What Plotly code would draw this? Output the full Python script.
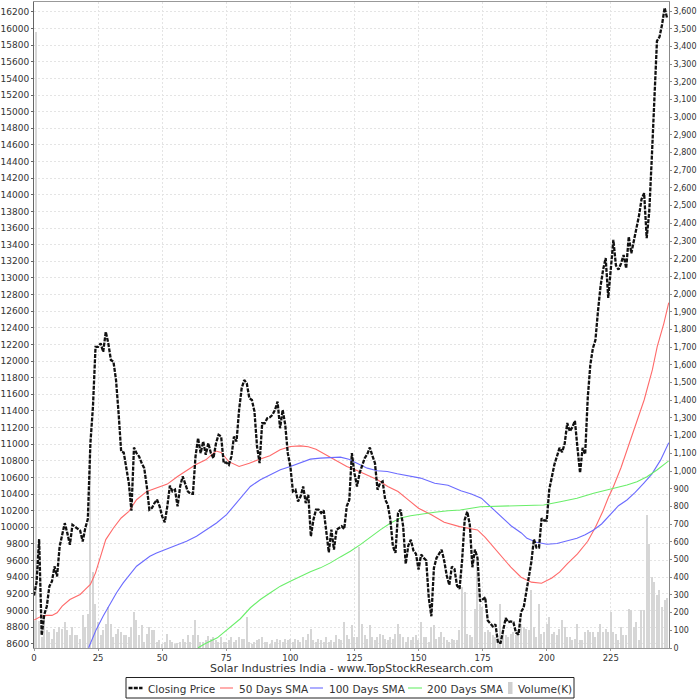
import plotly.graph_objects as go

# ---------------- data ----------------
days = list(range(248))

closing_price = [
    9180, 9340, 9860, 8700, 8950, 9050, 9290, 9350, 9530, 9410,
    9770, 9910, 10050, 9930, 9790, 10030, 10010, 9990, 9960, 9830,
    9990, 10100, 11012, 11452, 12172, 12172, 12212, 12112, 12352, 12212,
    12012, 11992, 11772, 11372, 10912, 10900, 10732, 10532, 10200, 10960,
    10892, 10852, 10772, 10712, 10492, 10212, 10232, 10292, 10332, 10252,
    10132, 10060, 10252, 10500, 10432, 10452, 10252, 10492, 10612, 10512,
    10432, 10404, 10404, 10852, 11072, 10892, 11032, 10872, 11012, 10892,
    10832, 11012, 11112, 11092, 10772, 10780, 10752, 10852, 11092, 11032,
    11412, 11672, 11772, 11732, 11552, 11532, 11392, 10972, 10772, 11252,
    11252, 11312, 11324, 11352, 11412, 11512, 11192, 11412, 11232, 10892,
    10732, 10432, 10452, 10312, 10372, 10492, 10292, 10392, 9892, 10092,
    10212, 10212, 10172, 10204, 9932, 9700, 9972, 9732, 9972, 9992,
    10012, 9980, 10252, 10332, 10892, 10652, 10492, 10652, 10732, 10832,
    10880, 10960, 10860, 10772, 10452, 10532, 10552, 10332, 10272, 10092,
    9772, 9692, 10172, 10212, 10012, 9560, 9780, 9850, 9720, 9680,
    9492, 9672, 9632, 9600, 9150, 8930, 9510, 9630, 9680, 9730,
    9600, 9420, 9306, 9526, 9500, 9300, 9260, 9606, 10088, 10188,
    10030, 9520, 9732, 9632, 9108, 9133, 9158, 8880, 8840, 8808,
    8833, 8609, 8609, 8758, 8908, 8858, 8868, 8858, 8733, 8708,
    8983, 9033, 9208, 9432, 9582, 9857, 9757, 9757, 10107, 10082,
    10082, 10456, 10606, 10756, 10855, 10955, 10905, 11005, 11255, 11155,
    11205, 11280, 10955, 10656, 10955, 10880, 11554, 11953, 12153, 12253,
    12602, 12901, 13101, 13240, 12760, 13150, 13457, 13150, 13100, 13176,
    13276, 13116, 13497, 13297, 13450, 13600, 13750, 13950, 14020, 13480,
    13800, 14450, 15150, 15850, 15900, 16050, 16250, 16120,
]

volume_k = [
    150, 3480, 150, 60, 175, 100, 90, 53, 110, 90,
    119, 109, 147, 100, 72, 119, 72, 72, 53, 185,
    119, 194, 1100, 430, 250, 147, 72, 100, 138, 232,
    138, 62, 81, 109, 90, 72, 72, 60, 119, 203,
    156, 72, 128, 34, 81, 119, 100, 100, 34, 43,
    25, 34, 81, 43, 34, 25, 28, 34, 53, 34,
    72, 34, 72, 156, 72, 34, 34, 43, 66, 53,
    62, 43, 34, 62, 34, 34, 43, 62, 34, 43,
    62, 53, 53, 175, 34, 25, 34, 43, 53, 62,
    34, 34, 25, 43, 34, 53, 43, 34, 53, 43,
    53, 34, 53, 43, 34, 62, 43, 81, 109, 43,
    34, 53, 43, 34, 62, 34, 43, 34, 72, 53,
    43, 147, 72, 53, 128, 62, 60, 570, 138, 72,
    53, 128, 62, 43, 62, 81, 72, 53, 43, 62,
    53, 81, 138, 81, 62, 34, 62, 43, 62, 72,
    43, 147, 62, 62, 34, 119, 128, 53, 62, 90,
    62, 43, 34, 53, 43, 43, 100, 345, 316, 80,
    72, 62, 222, 495, 250, 230, 90, 100, 90, 72,
    62, 34, 250, 119, 72, 62, 81, 90, 72, 100,
    138, 119, 110, 100, 326, 119, 62, 250, 81, 90,
    138, 175, 81, 90, 72, 110, 156, 119, 62, 62,
    43, 53, 138, 43, 43, 90, 100, 90, 90, 62,
    90, 138, 90, 110, 90, 203, 90, 81, 43, 119,
    72, 72, 222, 213, 119, 147, 43, 213, 213, 750,
    590, 400, 373, 298, 326, 232, 269, 280,
]

sma50_x = [0, 3, 5, 7, 9, 11, 14, 18, 20, 22, 24, 26, 28, 31, 34, 37, 40, 44, 48, 52,
           56, 60, 63, 67, 71, 73, 76, 80, 84, 88, 92, 96, 100, 104, 107, 110, 114, 118,
           122, 126, 130, 134, 138, 142, 146, 150, 155, 160, 166, 170, 173, 176, 179,
           182, 186, 190, 194, 198, 202, 205, 208, 212, 216, 219, 222, 224, 226, 229,
           232, 234, 238, 241.2, 243.1, 245.7, 247.6]
sma50 = [8884, 8932, 8940, 8940, 8972, 9052, 9132, 9192, 9252, 9312, 9452, 9652, 9852,
         9992, 10112, 10192, 10332, 10432, 10472, 10520, 10612, 10692, 10752, 10812,
         10918, 10900, 10790, 10732, 10770, 10820, 10860, 10932, 10972, 10980, 10970,
         10940, 10872, 10800, 10732, 10684, 10632, 10572, 10492, 10430, 10330, 10230,
         10150, 10060, 10008, 9980, 9968, 9880, 9770, 9660, 9520, 9400, 9340, 9327,
         9390, 9460, 9560, 9680, 9832, 10000, 10200, 10356, 10489, 10720, 11000, 11171,
         11532, 11893, 12173, 12454, 12702]

sma100_x = [21.3, 22, 24.3, 27, 29.6, 32.2, 34.8, 37.4, 40, 42.6, 45.2, 47.8, 51.7, 55.6,
            59.5, 63.4, 67.3, 71.2, 75.1, 80.5, 84.4, 88.3, 92.2, 96.1, 100, 103.9,
            107.8, 111.7, 115.6, 119.5, 122.8, 126, 130, 133.9, 137.8, 141.7, 145.6,
            150.8, 156.3, 161.5, 166.5, 170.6, 174.5, 179.3, 182.3, 186.2, 190.1, 192.3,
            196, 200.1, 204, 208, 211.8, 215, 218.3, 221.4, 224.8, 228, 231.3, 234.5,
            237.8, 241, 244.4, 247.6]
sma100 = [8550, 8600, 8772, 8932, 9072, 9212, 9332, 9432, 9532, 9592, 9652, 9692, 9740,
          9792, 9832, 9892, 9972, 10052, 10152, 10350, 10492, 10572, 10632, 10692, 10732,
          10772, 10820, 10832, 10840, 10844, 10820, 10772, 10712, 10680, 10672, 10644,
          10620, 10592, 10531, 10506, 10440, 10400, 10350, 10210, 10131, 10016, 9932,
          9868, 9820, 9796, 9805, 9840, 9868, 9910, 9968, 10040, 10160, 10260, 10329,
          10420, 10530, 10640, 10808, 11018]

sma200_x = [64, 66.7, 71.5, 76.5, 80.5, 84.4, 88.3, 92.2, 96.1, 100, 103.9, 107.8, 111.7,
            115.6, 119.5, 123.4, 127.3, 131.2, 135.2, 139.1, 143, 146.9, 150.8, 156.3,
            161.5, 166.3, 174.1, 185.8, 198.8, 205.3, 211.8, 218.3, 224.8, 231.3, 235.2,
            239.1, 243, 247.6]
sma200 = [8550, 8600, 8670, 8792, 8900, 9032, 9132, 9212, 9292, 9352, 9412, 9464, 9512,
          9572, 9644, 9712, 9792, 9884, 9972, 10052, 10112, 10140, 10160, 10181, 10200,
          10208, 10248, 10256, 10268, 10308, 10349, 10409, 10457, 10509, 10549, 10609,
          10690, 10800]

x_ticks = [0, 25, 50, 75, 100, 125, 150, 175, 200, 225]
chart_title = "Solar Industries India - www.TopStockResearch.com"
legend_labels = ["Closing Price", "50 Days SMA", "100 Days SMA", "200 Days SMA", "Volume(K)"]

FONT = "DejaVu Sans"
TEXT = "#333333"
C_PRICE, C_50, C_100, C_200, C_VOL = "#111111", "#ff6a6a", "#6b6bff", "#6aee6a", "#d6d6d6"
PRICE_DASH = "4px,1.3px"

# plot area in pixels (for placing the legend / title below it)
L, R, T, B = 34, 669, 2, 648


def px(xp):
    return (xp - L) / (R - L)


def py(yp):
    return (B - yp) / (B - T)


fig = go.Figure()

fig.add_trace(go.Bar(
    x=days, y=volume_k, name=legend_labels[4], yaxis="y",
    marker=dict(color=C_VOL, line=dict(width=0)), width=0.5,
))
fig.add_trace(go.Scatter(
    x=sma50_x, y=sma50, name=legend_labels[1], yaxis="y2", mode="lines",
    line=dict(color=C_50, width=1.1),
))
fig.add_trace(go.Scatter(
    x=sma100_x, y=sma100, name=legend_labels[2], yaxis="y2", mode="lines",
    line=dict(color=C_100, width=1.1),
))
fig.add_trace(go.Scatter(
    x=sma200_x, y=sma200, name=legend_labels[3], yaxis="y2", mode="lines",
    line=dict(color=C_200, width=1.1),
))
fig.add_trace(go.Scatter(
    x=days, y=closing_price, name=legend_labels[0], yaxis="y2", mode="lines",
    line=dict(color=C_PRICE, width=2.3, dash=PRICE_DASH),
))

# ---- legend drawn below the chart (box, samples, labels) ----
shapes = [
    dict(type="rect", xref="paper", yref="paper",
         x0=px(126), x1=px(574), y0=py(698), y1=py(677.5),
         line=dict(color="#222222", width=1), fillcolor="white", layer="above"),
]
samples = [
    (128.5, 142.5, C_PRICE, 2.3, PRICE_DASH),
    (220, 233, C_50, 1.1, "solid"),
    (310, 323, C_100, 1.1, "solid"),
    (408, 422, C_200, 1.1, "solid"),
]
for x0, x1, col, w, dash in samples:
    shapes.append(dict(type="line", xref="paper", yref="paper",
                       x0=px(x0), x1=px(x1), y0=py(688), y1=py(688),
                       line=dict(color=col, width=w, dash=dash), layer="above"))
shapes.append(dict(type="rect", xref="paper", yref="paper",
                   x0=px(508), x1=px(512.5), y0=py(694), y1=py(682),
                   line=dict(width=0), fillcolor="#cfcfcf", layer="above"))

label_x = [145.5, 236.5, 326.5, 425, 516]
annotations = [
    dict(text=lab, xref="paper", yref="paper", x=px(lx), y=py(688.5),
         xanchor="left", yanchor="middle", showarrow=False,
         font=dict(family=FONT, size=10.5, color=TEXT))
    for lab, lx in zip(legend_labels, label_x)
]
annotations.append(dict(
    text=chart_title, xref="paper", yref="paper", x=0.5, y=py(668),
    xanchor="center", yanchor="middle", showarrow=False,
    font=dict(family=FONT, size=11, color=TEXT)))

fig.update_layout(
    width=700, height=700,
    margin=dict(l=L, r=700 - R, t=T, b=700 - B),
    paper_bgcolor="white", plot_bgcolor="white",
    font=dict(family=FONT, size=9, color=TEXT),
    bargap=0,
    showlegend=False,
    shapes=shapes,
    annotations=annotations,
    xaxis=dict(
        range=[0, 247.7], tickmode="array", tickvals=x_ticks,
        showgrid=True, gridcolor="#e4e4e4", griddash="2px,2px", gridwidth=1,
        zeroline=False, showline=True, linecolor="#999999", linewidth=1, mirror=True,
        ticks="outside", ticklen=2, tickcolor="#999999",
        tickfont=dict(family=FONT, size=8.5, color=TEXT),
    ),
    yaxis=dict(
        side="right", range=[0, 3651], tickmode="linear", tick0=0, dtick=100,
        tickformat=",d", showgrid=False, zeroline=False,
        showline=True, linecolor="#888888", linewidth=1,
        ticks="outside", ticklen=2, tickcolor="#888888",
        tickfont=dict(family=FONT, size=8, color=TEXT),
    ),
    yaxis2=dict(
        overlaying="y", side="left", anchor="x",
        range=[8548, 16320], tickmode="linear", tick0=8600, dtick=200,
        tickformat="d", showgrid=True, gridcolor="#e4e4e4", griddash="2px,2px",
        zeroline=False, showline=True, linecolor="#666666", linewidth=1,
        ticks="outside", ticklen=2, tickcolor="#666666",
        tickfont=dict(family=FONT, size=9, color=TEXT),
    ),
)

# remove the browser's default 8px page margin so the figure sits at (0, 0)
fig.write_html(
    "out.html",
    config={"displayModeBar": False},
    post_script="document.body.style.margin='0';document.body.style.overflow='hidden';",
)
